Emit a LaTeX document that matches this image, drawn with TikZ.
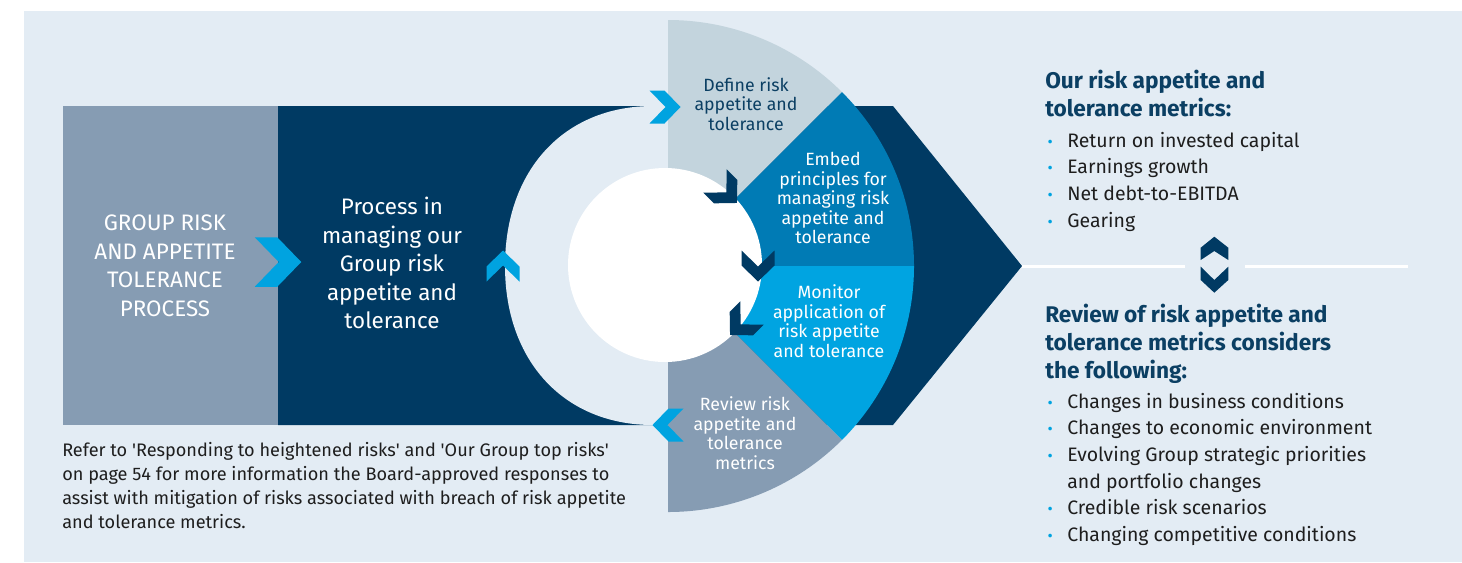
\documentclass[tikz,border=0pt]{standalone}
\usepackage{fontspec}
\setmainfont{Fira Sans}
\usepackage{tikz}

\definecolor{panelbg}{HTML}{E3ECF4}
\definecolor{navy}{HTML}{003A63}
\definecolor{greyblue}{HTML}{869CB3}
\definecolor{definefill}{HTML}{C3D4DD}
\definecolor{embedfill}{HTML}{007BB5}
\definecolor{monitorfill}{HTML}{00A4E1}
\definecolor{chevblue}{HTML}{00A3E0}
\definecolor{headblue}{HTML}{0B3F63}
\definecolor{bodytext}{HTML}{1E1E1E}

\newcommand{\bitem}[1]{\makebox[7.5pt][c]{\textcolor{chevblue}{\fontsize{12}{12}\selectfont\textbullet}}\hspace{9pt}#1}
\newcommand{\q}{\textquotesingle}

\tikzset{chevron/.pic={\fill[pic actions] (-15.5,-16.5) -- (-0.5,-16.5) -- (15.5,0) -- (-0.5,16.5) -- (-15.5,16.5) -- (0.5,0) -- cycle;}}

\begin{document}
\begin{tikzpicture}[x=0.75pt, y=-0.75pt]
  % Define styles
  \tikzstyle{boxtext} = [text=white, align=center, inner sep=0pt, font=\fontsize{16.8}{21.4}\selectfont]
  \tikzstyle{segtext} = [text=white, align=center, inner sep=0pt, font=\fontsize{13.3}{14.6}\selectfont]
  \tikzstyle{heading} = [text=headblue, align=left, inner sep=0pt, anchor=north west, font=\bfseries\fontsize{17}{21}\selectfont]
  \tikzstyle{bullets} = [text=bodytext, align=left, inner sep=0pt, anchor=north west, font=\fontsize{14.6}{19.9}\selectfont]

  % Canvas and panel
  \useasboundingbox (0,0) rectangle (1462,562);
  \fill[white] (0,0) rectangle (1462,562);
  \fill[panelbg] (24,11) rectangle (1462,562);

  % Left box and navy arrow
  \fill[greyblue] (63,106) rectangle (278,425);
  \fill[navy] (278,106) -- (893,106) -- (1022,266) -- (893,425) -- (278,425) -- cycle;

  % Light ring cut out of the arrow
  \fill[panelbg] (653,106) .. controls (564,106) and (505,170) .. (505,266)
    .. controls (505,361) and (564,425) .. (653,425) -- (668,425) -- (668,106) -- cycle;

  % Cycle sectors
  \fill[definefill] (668,266) -- ++(-90:246) arc[start angle=-90, end angle=-45, radius=246] -- cycle;
  \fill[embedfill] (668,266) -- ++(-45:246) arc[start angle=-45, end angle=0, radius=246] -- cycle;
  \fill[monitorfill] (668,266) -- ++(0:246) arc[start angle=0, end angle=45, radius=246] -- cycle;
  \fill[greyblue] (668,266) -- ++(45:246) arc[start angle=45, end angle=90, radius=246] -- cycle;

  % Inner circle
  \fill[white] (665,265) circle[radius=97];

  % Chevrons
  \pic[fill=chevblue, scale=1.5] at (278,262) {chevron};
  \pic[fill=chevblue] at (665,107) {chevron};
  \pic[fill=chevblue, rotate=180] at (668,425) {chevron};
  \pic[fill=chevblue, rotate=90] at (503,266) {chevron};
  \pic[fill=navy, rotate=-45] at (726,192) {chevron};
  \pic[fill=navy, rotate=-90] at (758,266) {chevron};
  \pic[fill=navy, rotate=-135] at (741,324) {chevron};

  % Box texts
  \node[boxtext] (grouptxt) at (165,266) {GROUP RISK\\AND APPETITE\\TOLERANCE\\PROCESS};
  \node[boxtext] (processtxt) at (392,263) {Process in\\managing our\\Group risk\\appetite and\\tolerance};

  % Sector texts
  \node[segtext, text=headblue] (define) at (746,104) {Define risk\\appetite and\\tolerance};
  \node[segtext] (embed) at (833,198) {Embed\\principles for\\managing risk\\appetite and\\tolerance};
  \node[segtext] (monitor) at (829,321) {Monitor\\application of\\risk appetite\\and tolerance};
  \node[segtext] (review) at (745,433) {Review risk\\appetite and\\tolerance\\metrics};

  % Right hand panel
  \node[heading] (metricshead) at (1045,70) {Our risk appetite and\\tolerance metrics:};
  \node[bullets] (metricslist) at (1045,132) {\bitem{Return on invested capital}\\\bitem{Earnings growth}\\\bitem{Net debt-to-EBITDA}\\\bitem{Gearing}};

  \coordinate (tip) at (1022,266);
  \coordinate (lineend) at (1408,266);
  \draw[white, line width=2.25pt] (tip) -- (1185,266);
  \draw[white, line width=2.25pt] (1245,266) -- (lineend);
  \fill[navy] (1214.3,236.7) -- (1228.3,247.7) -- (1228.3,260) -- (1214.3,251) -- (1200.7,260) -- (1200.7,247.7) -- cycle;
  \fill[navy] (1200.7,266.7) -- (1214.3,280) -- (1228.3,266.7) -- (1228.3,280) -- (1214.3,292.7) -- (1200.7,280) -- cycle;

  \node[heading] (reviewhead) at (1045,304) {Review of risk appetite and\\tolerance metrics considers\\the following:};
  \node[bullets] (reviewlist) at (1045,393) {\bitem{Changes in business conditions}\\\bitem{Changes to economic environment}\\\bitem{Evolving Group strategic priorities}\\\makebox[16.5pt]{}and portfolio changes\\\bitem{Credible risk scenarios}\\\bitem{Changing competitive conditions}};

  % Footnote
  \node[text=bodytext, align=left, inner sep=0pt, anchor=north west, font=\fontsize{13.6}{18}\selectfont] (note) at (62,442) {Refer to \q Responding to heightened risks\q{} and \q Our Group top risks\q\\on page 54 for more information the Board-approved responses to\\assist with mitigation of risks associated with breach of risk appetite\\and tolerance metrics.};
\end{tikzpicture}
\end{document}
